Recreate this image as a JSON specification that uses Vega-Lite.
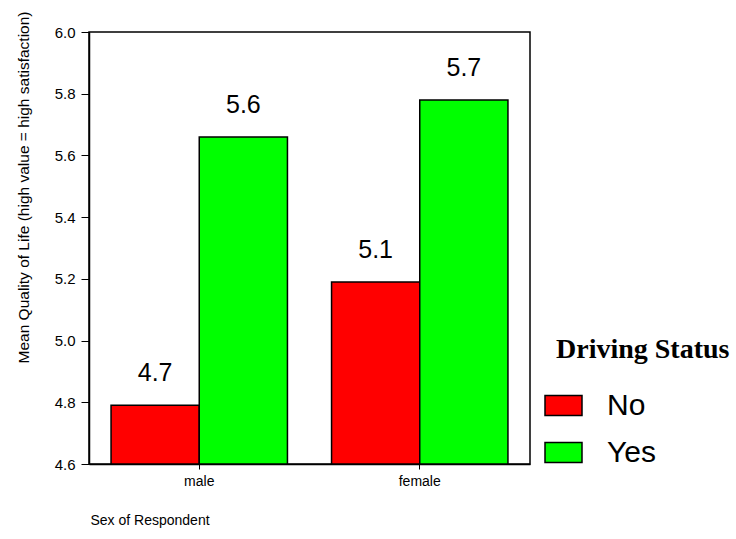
{
  "$schema": "https://vega.github.io/schema/vega-lite/v6.json",
  "width": 441,
  "height": 432,
  "autosize": {"type": "none"},
  "padding": {"left": 89, "top": 32, "right": 206, "bottom": 75},
  "background": "white",
  "data": {
    "values": [
      {"sex": "male", "driving": "No", "mean": 4.79, "label": "4.7"},
      {"sex": "male", "driving": "Yes", "mean": 5.66, "label": "5.6"},
      {"sex": "female", "driving": "No", "mean": 5.19, "label": "5.1"},
      {"sex": "female", "driving": "Yes", "mean": 5.78, "label": "5.7"}
    ]
  },
  "encoding": {
    "x": {
      "field": "sex",
      "type": "nominal",
      "sort": ["male", "female"],
      "scale": {"paddingInner": 0.2, "paddingOuter": 0.1},
      "axis": {
        "title": "Sex of Respondent",
        "titleX": 1,
        "titleY": 56,
        "titleAlign": "left",
        "titleAnchor": "start",
        "titleBaseline": "middle",
        "titleFontSize": 14,
        "titleFontWeight": "normal",
        "labelAngle": 0,
        "labelFontSize": 14,
        "tickSize": 5,
        "labelPadding": 5
      }
    },
    "xOffset": {"field": "driving", "type": "nominal", "sort": ["No", "Yes"], "scale": {"paddingInner": 0, "paddingOuter": 0}},
    "y": {
      "field": "mean",
      "type": "quantitative",
      "scale": {"domain": [4.6, 6.0], "zero": false, "nice": false},
      "axis": {
        "title": "Mean Quality of Life (high value = high satisfaction)",
        "values": [4.6, 4.8, 5.0, 5.2, 5.4, 5.6, 5.8, 6.0],
        "format": ".1f",
        "titleX": -58,
        "titleY": 155,
        "titleAngle": -90,
        "titleAlign": "center",
        "titleBaseline": "bottom",
        "titleFontSize": 15.5,
        "titleFontWeight": "normal",
        "labelFontSize": 15,
        "tickSize": 8,
        "labelPadding": 6
      }
    }
  },
  "layer": [
    {
      "mark": {"type": "bar", "stroke": "black", "strokeWidth": 1.5},
      "encoding": {
        "y2": {"datum": 4.6},
        "color": {
          "field": "driving",
          "type": "nominal",
          "sort": ["No", "Yes"],
          "scale": {"domain": ["No", "Yes"], "range": ["#FF0000", "#00FF00"]},
          "legend": {
            "title": "Driving Status",
            "orient": "none",
            "legendX": 467,
            "legendY": 304,
            "padding": 0,
            "titleFont": "Liberation Serif",
            "titleFontSize": 28,
            "titleFontWeight": "bold",
            "titleColor": "black",
            "titlePadding": 22,
            "symbolType": "M-1,-0.54H1V0.54H-1Z",
            "symbolSize": 1369,
            "symbolStrokeColor": "black",
            "symbolStrokeWidth": 1.5,
            "symbolOpacity": 1,
            "symbolOffset": -12,
            "labelFont": "Liberation Sans",
            "labelFontSize": 30,
            "labelColor": "black",
            "labelOffset": 24,
            "labelBaseline": "middle",
            "rowPadding": 12
          }
        }
      }
    },
    {
      "mark": {"type": "text", "dy": -32, "fontSize": 25, "font": "Liberation Sans", "color": "black", "baseline": "middle"},
      "encoding": {
        "text": {"field": "label", "type": "nominal"}
      }
    }
  ],
  "config": {
    "font": "Liberation Sans",
    "view": {"stroke": "black", "strokeWidth": 1.5},
    "axis": {
      "grid": false,
      "labelColor": "black",
      "titleColor": "black",
      "tickColor": "black",
      "domainColor": "black",
      "domainWidth": 1.5,
      "tickWidth": 1,
      "labelFont": "Liberation Sans",
      "titleFont": "Liberation Sans"
    }
  }
}
